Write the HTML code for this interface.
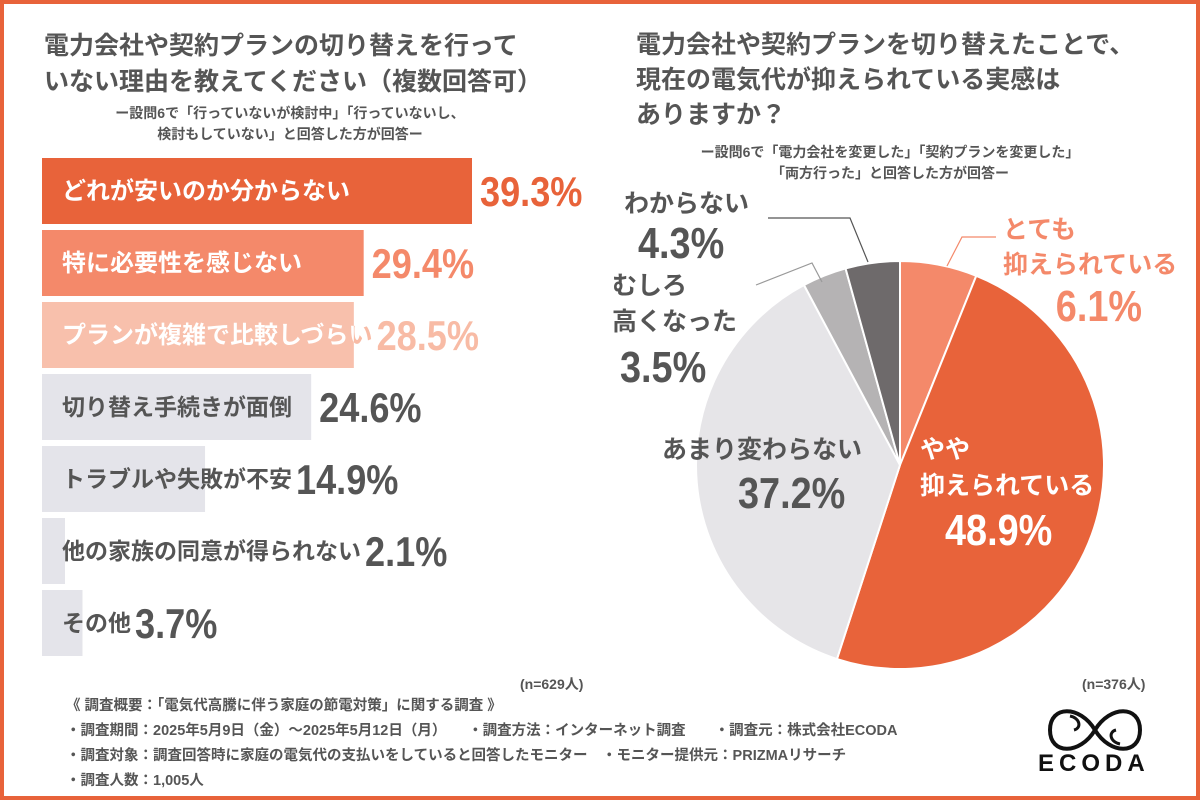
<!DOCTYPE html>
<html><head><meta charset="utf-8">
<style>
body{margin:0;width:1200px;height:800px;overflow:hidden;font-family:"Liberation Sans","Noto Sans CJK JP",sans-serif;}
#frame{position:absolute;left:0;top:0;width:1192px;height:792px;border:4px solid #E8633A;background:#fff;}
.t{position:absolute;font-weight:bold;color:#555;white-space:nowrap;}
</style></head><body>
<div id="frame"></div>
<div class="t" style="left:44px;top:28px;font-size:25px;line-height:36px;color:#555">電力会社や契約プランの切り替えを行って<br>いない理由を教えてください（複数回答可）</div>
<div class="t" style="left:90px;top:103px;width:400px;text-align:center;font-size:14px;line-height:21px">ー設問6で「行っていないが検討中」「行っていないし、<br>検討もしていない」と回答した方が回答ー</div>
<div class="t" style="left:636px;top:28px;font-size:25px;line-height:35px">電力会社や契約プランを切り替えたことで、<br>現在の電気代が抑えられている実感は<br>ありますか？</div>
<div class="t" style="left:680px;top:142px;width:420px;text-align:center;font-size:14px;line-height:21px">ー設問6で「電力会社を変更した」「契約プランを変更した」<br>「両方行った」と回答した方が回答ー</div>
<svg id="chart" width="1200" height="800" style="position:absolute;left:0;top:0"></svg>
<div class="t" style="left:520px;top:674px;font-size:14px">(n=629人)</div>
<div class="t" style="left:1082px;top:674px;font-size:14px">(n=376人)</div>
<div class="t" style="left:66px;top:694px;font-size:14.5px;line-height:25px">《 調査概要：「電気代高騰に伴う家庭の節電対策」に関する調査 》<br>・調査期間：2025年5月9日（金）～2025年5月12日（月）　　・調査方法：インターネット調査　　・調査元：株式会社ECODA<br>・調査対象：調査回答時に家庭の電気代の支払いをしていると回答したモニター　・モニター提供元：PRIZMAリサーチ<br>・調査人数：1,005人</div>
<svg width="110" height="60" style="position:absolute;left:1040px;top:700px"><path d="M55 30 C40 5 10 5 10 30 C10 55 40 55 55 30 C70 5 100 5 100 30 C100 55 70 55 55 30" fill="none" stroke="#111" stroke-width="4"/><path d="M30 16 C40 18 42 28 34 30" fill="none" stroke="#111" stroke-width="3"/><path d="M80 44 C70 42 68 32 76 30" fill="none" stroke="#111" stroke-width="3"/></svg>
<div class="t" style="left:1038px;top:750px;font-size:24px;color:#111;letter-spacing:5px">ECODA</div>
<script>
const barLabels=["どれが安いのか分からない","特に必要性を感じない","プランが複雑で比較しづらい","切り替え手続きが面倒","トラブルや失敗が不安","他の家族の同意が得られない","その他"];
const barValues=[39.3,29.4,28.5,24.6,14.9,2.1,3.7];
const pieLabels=["とても抑えられている","やや抑えられている","あまり変わらない","むしろ高くなった","わからない"];
const pieValues=[6.1,48.9,37.2,3.5,4.3];
const svg=document.getElementById('chart');const NS="http://www.w3.org/2000/svg";
function mk(t,a,parent){const e=document.createElementNS(NS,t);for(const k in a)e.setAttribute(k,a[k]);(parent||svg).appendChild(e);return e;}
const SX=0.86;
const x0=42,pxPer=430/39.3,y0=158,step=72,bh=66;
const fills=["#E8633A","#F4896A","#F8C0AC","#E4E4EA","#E4E4EA","#E4E4EA","#E4E4EA"];
const pcol=["#E8633A","#F4896A","#F8BBA5","#555","#555","#555","#555"];
const lcol=["#fff","#fff","#fff","#555","#555","#555","#555"];
const defs=mk('defs',{});
barValues.forEach((v,i)=>{
 const w=v*pxPer,y=y0+i*step;
 const r=mk('rect',{x:x0,y:y,width:w,height:bh,fill:fills[i]});
 
 
 const fs=i<3?24:23;
 const t=mk('text',{x:x0+20,y:y+bh/2+8,'font-size':fs,'font-weight':'bold',fill:i<3?pcol[i]:lcol[i]});t.textContent=barLabels[i];
 
 
 const tw=t.getComputedTextLength();
 if(i<3){
  const cp=mk('clipPath',{id:'cp'+i},defs);mk('rect',{x:x0,y:y,width:w,height:bh},cp);
  const t2=mk('text',{x:x0+20,y:y+bh/2+8,'font-size':fs,'font-weight':'bold',fill:'#fff','clip-path':`url(#cp${i})`});t2.textContent=barLabels[i];
  
  
 }
 const px=Math.max(x0+w+8,x0+20+tw+4);
 const p=mk('text',{x:0,y:0,'font-size':42,'font-weight':'bold',fill:pcol[i],transform:`translate(${px},${y+bh/2+15}) scale(${SX},1)`});p.textContent=v.toFixed(1)+'%';
 
 
});
const cx=900,cy=465,R=204;const pf=["#F4896A","#E8633A","#E6E5E8","#B5B3B4","#6E6A6B"];
const tot=pieValues.reduce((a,b)=>a+b,0);let a=0;
pieValues.forEach((v,i)=>{
 const a1=a+v/tot*2*Math.PI;
 const p1=[cx+R*Math.sin(a),cy-R*Math.cos(a)],p2=[cx+R*Math.sin(a1),cy-R*Math.cos(a1)];
 const s=mk('path',{d:`M${cx},${cy}L${p1[0]},${p1[1]}A${R},${R} 0 ${a1-a>Math.PI?1:0} 1 ${p2[0]},${p2[1]}Z`,fill:pf[i],stroke:'#fff','stroke-width':2});
 
 
 a=a1;
});
function txt(x,y,s,sz,c,anchor,name,sx){const t=mk('text',{x:0,y:0,'font-size':sz,'font-weight':'bold',fill:c,'text-anchor':anchor||'start',transform:`translate(${x},${y}) scale(${sx||1},1)`});t.textContent=s;
 
 return t;}
function line(pts,c){const l=mk('polyline',{points:pts,fill:'none',stroke:c,'stroke-width':1.2});
 
 }
txt(1003,238,"とても",25,"#F4896A","start","pie-label-1a");
txt(1003,273,"抑えられている",25,"#F4896A","start","pie-label-1b");
txt(1142,321,pieValues[0].toFixed(1)+"%",44,"#F4896A","end","pie-value-1",SX);
line("947,266 962,237 996,237","#F4896A");
txt(920,458,"やや",25,"#fff","start","pie-label-2a");
txt(920,494,"抑えられている",25,"#fff","start","pie-label-2b");
txt(945,545,pieValues[1].toFixed(1)+"%",44,"#fff","start","pie-value-2",SX);
txt(662,458,"あまり変わらない",25,"#555","start","pie-label-3");
txt(738,508,pieValues[2].toFixed(1)+"%",44,"#555","start","pie-value-3",SX);
txt(612,294,"むしろ",25,"#555","start","pie-label-4a");
txt(612,330,"高くなった",25,"#555","start","pie-label-4b");
txt(620,382,pieValues[3].toFixed(1)+"%",44,"#555","start","pie-value-4",SX);
line("756,285 812,263 822,282","#999");
txt(624,212,"わからない",25,"#555","start","pie-label-5");
txt(638,258,pieValues[4].toFixed(1)+"%",44,"#555","start","pie-value-5",SX);
line("768,218 850,218 868,262","#555");
</script>
</body></html>
